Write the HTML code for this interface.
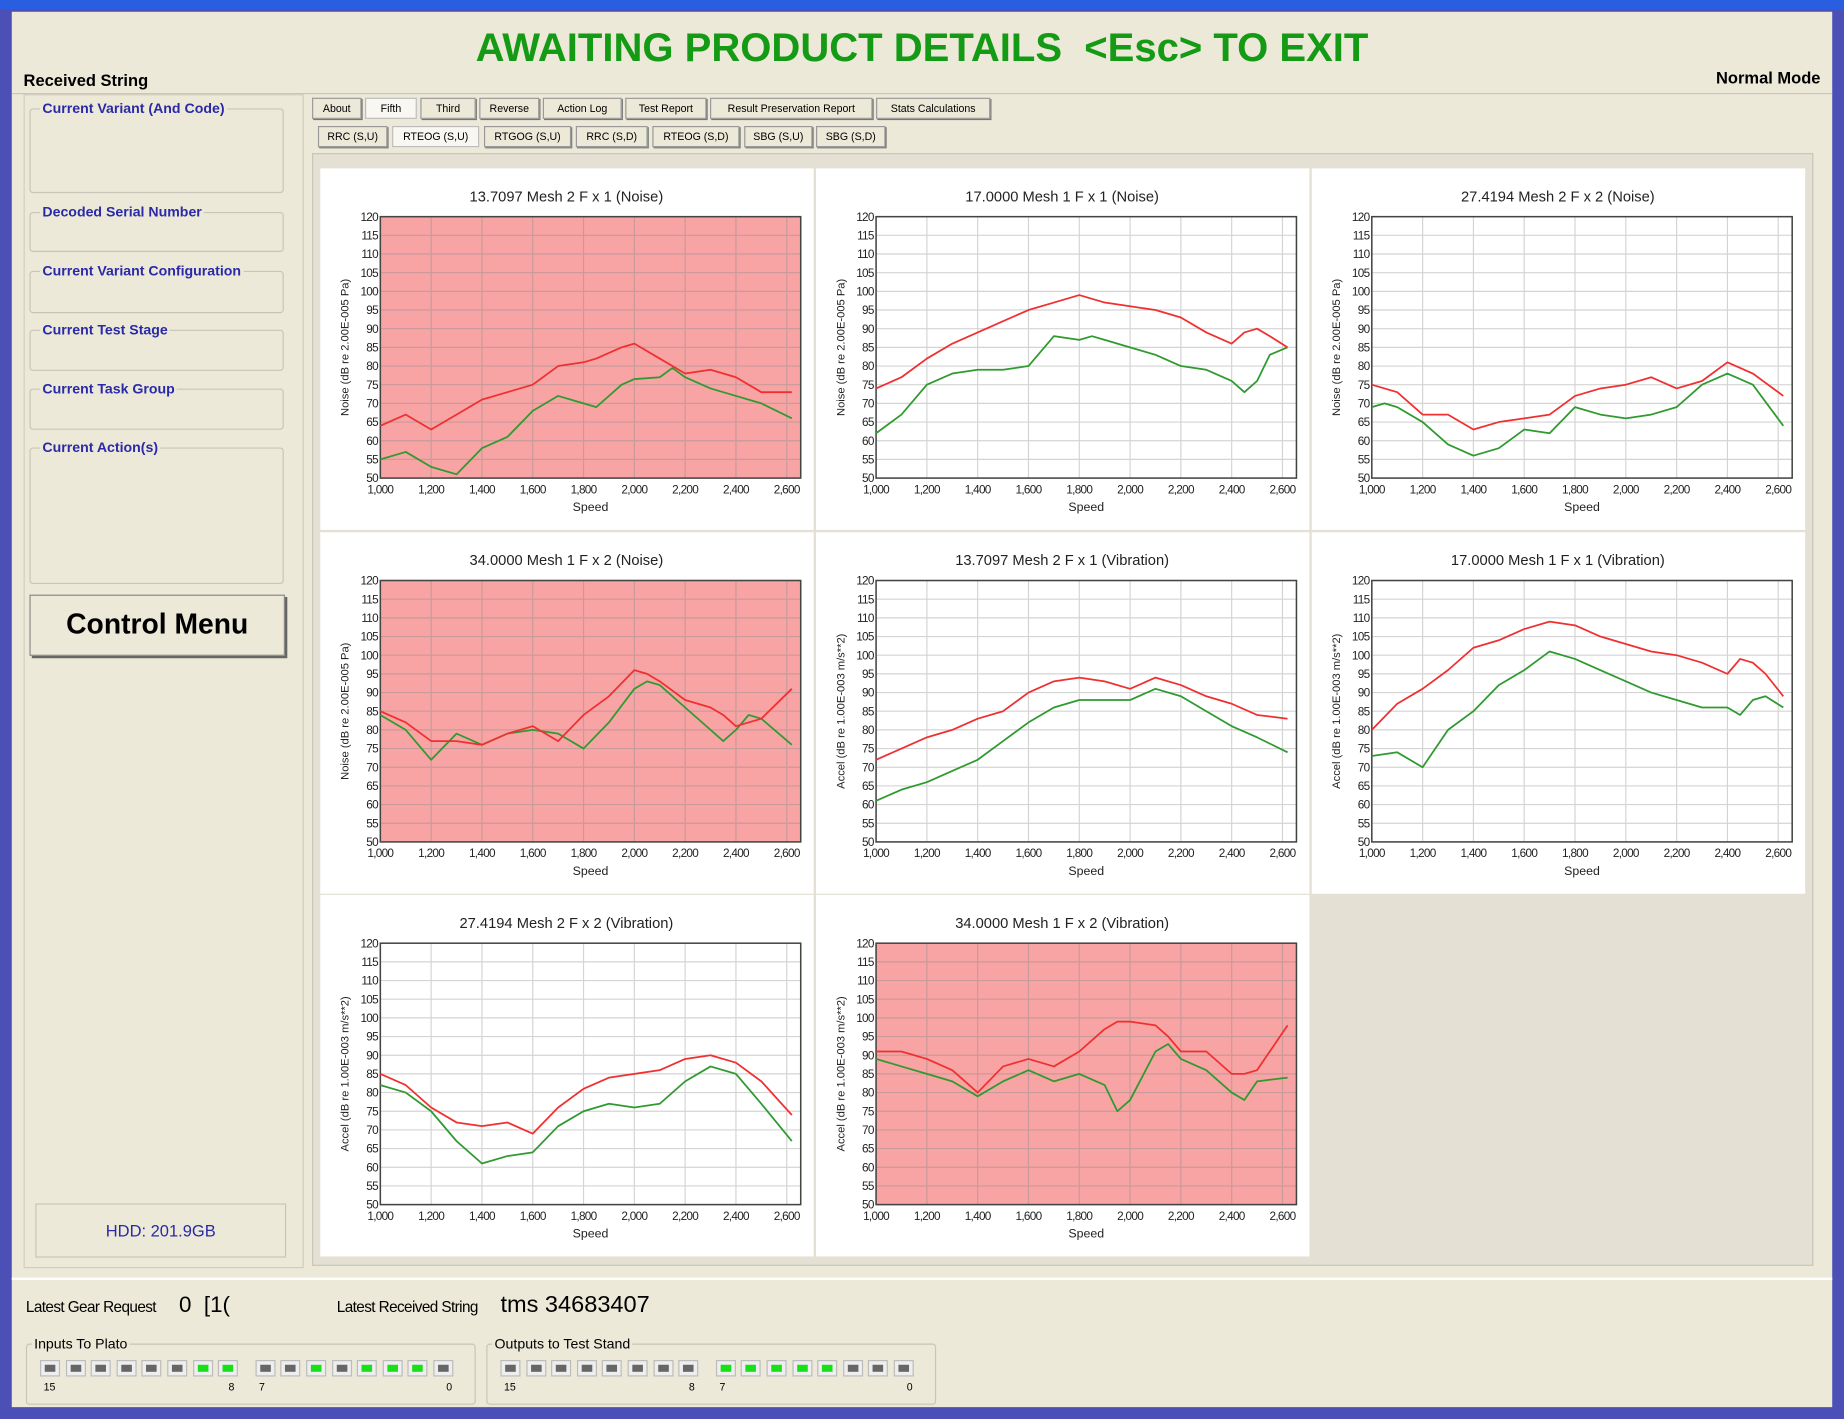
<!DOCTYPE html>
<html><head><meta charset="utf-8"><style>
body{margin:0;width:1844px;height:1417px;overflow:hidden;background:#4a50b8;font-family:"Liberation Sans",sans-serif}
#root{position:absolute;left:0;top:0;width:1566px;height:1205px;transform:scale(1.17752);transform-origin:0 0;background:#4b4fb6}
.abs{position:absolute}
#main{left:10px;top:10px;width:1546px;height:1185px;background:#ece9d8}
.grp{position:absolute;border:1px solid #c8c5b8;border-radius:3px}
.grp span{position:absolute;top:-8px;left:8px;background:#ece9d8;color:#2a2aa8;font-weight:bold;font-size:12px;padding:0 2px}
.tab{position:absolute;height:16px;border:1px solid #999;background:#ece9d8;font-size:9px;line-height:16px;text-align:center;box-shadow:1px 1px 0 #777}
.tab.sel{background:#f8f7f2;box-shadow:none;border-color:#bbb}
.led{position:absolute;width:15px;height:12px;background:#eee;border:1px solid #bbb}
.led i{position:absolute;left:3px;top:3px;width:9px;height:6px;background:#666}
.led.on i{background:#18e018}
.small{font-size:9px;position:absolute}
</style></head><body>
<div id="root">
<div class="abs" style="left:0;top:0;width:1566px;height:8px;background:#2a5ee0"></div>
<div id="main" class="abs">
<div class="abs" style="left:0;top:12px;width:1546px;text-align:center;color:#149a14;font-weight:bold;font-size:34px">AWAITING PRODUCT DETAILS &nbsp;&lt;Esc&gt; TO EXIT</div>
<div class="abs" style="left:10px;top:50px;font-size:14px;font-weight:bold">Received String</div>
<div class="abs" style="right:10px;top:48px;font-size:14px;font-weight:bold">Normal Mode</div>
<div class="abs" style="left:0;top:69px;width:1546px;border-top:1px solid #c8c5b8"></div>
<div class="abs" style="left:10px;top:70px;width:236px;height:995px;border:1px solid #d0cdc0"></div>
<div class="grp" style="left:15px;top:82px;width:214px;height:70px"><span>Current Variant (And Code)</span></div>
<div class="grp" style="left:15px;top:170px;width:214px;height:32px"><span>Decoded Serial Number</span></div>
<div class="grp" style="left:15px;top:220px;width:214px;height:34px"><span>Current Variant Configuration</span></div>
<div class="grp" style="left:15px;top:270px;width:214px;height:33px"><span>Current Test Stage</span></div>
<div class="grp" style="left:15px;top:320px;width:214px;height:33px"><span>Current Task Group</span></div>
<div class="grp" style="left:15px;top:370px;width:214px;height:114px"><span>Current Action(s)</span></div>
<div class="abs" style="left:15px;top:495px;width:215px;height:50px;border:1px solid #888;box-shadow:2px 2px 0 #666;font-size:24px;font-weight:bold;text-align:center;line-height:50px;background:#ece9d8">Control Menu</div>
<div class="abs" style="left:20px;top:1012px;width:211px;height:44px;border:1px solid #c8c5b8;color:#2a2aa8;font-size:14px;text-align:center;line-height:44px">HDD: 201.9GB</div>
<div id="tabs"></div>
<div class="abs" style="left:255px;top:120px;width:1273px;height:943px;border:1px solid #c8c5b8;background:#e4e1d4"></div>
<div id="charts"></div>
<div class="abs" style="left:0;top:1075px;width:1546px;border-top:2px solid #fff"></div>
<div class="abs" style="left:12px;top:1092px;font-size:13px;letter-spacing:-0.5px">Latest Gear Request</div>
<div class="abs" style="left:142px;top:1088px;font-size:19px">0 &nbsp;[1(</div>
<div class="abs" style="left:276px;top:1092px;font-size:13px;letter-spacing:-0.5px">Latest Received String</div>
<div class="abs" style="left:415px;top:1087px;font-size:20px">tms 34683407</div>
<div class="grp" style="left:12px;top:1131px;width:380px;height:50px"><span style="color:#000;font-weight:normal;font-size:12px;left:4px">Inputs To Plato</span></div>
<div class="grp" style="left:403px;top:1131px;width:380px;height:50px"><span style="color:#000;font-weight:normal;font-size:12px;left:4px">Outputs to Test Stand</span></div>
<div id="leds"></div>
</div>
</div>
<script>
const tabNames1=["About","Fifth","Third","Reverse","Action Log","Test Report","Result Preservation Report","Stats Calculations"];
const tabX1=[255,300,347,397,451,521,593,734],tabW1=[40,42,45,49,65,67,136,95];
const tabNames2=["RRC (S,U)","RTEOG (S,U)","RTGOG (S,U)","RRC (S,D)","RTEOG (S,D)","SBG (S,U)","SBG (S,D)"];
const tabX2=[260,323,401,479,544,622,683],tabW2=[57,72,72,59,72,56,57];
let th='';
tabNames1.forEach((n,i)=>{th+=`<div class="tab${i==1?' sel':''}" style="left:${tabX1[i]}px;top:73px;width:${tabW1[i]}px">${n}</div>`});
tabNames2.forEach((n,i)=>{th+=`<div class="tab${i==1?' sel':''}" style="left:${tabX2[i]}px;top:97px;width:${tabW2[i]}px">${n}</div>`});
document.getElementById('tabs').innerHTML=th;

// LEDs
const inLeds=[0,0,0,0,0,0,1,1, 0,0,1,0,1,1,1,0];
const outLeds=[0,0,0,0,0,0,0,0, 1,1,1,1,1,0,0,0];
let lh='';
function ledRow(arr,x0,name){arr.forEach((v,i)=>{const x=x0+i*21.6+(i>=8?10:0);lh+=`<div class="led${v?' on':''}" style="left:${x}px;top:1145px"><i></i></div>`;});
lh+=`<div class="small" style="left:${x0+3}px;top:1163px">15</div><div class="small" style="left:${x0+160}px;top:1163px">8</div><div class="small" style="left:${x0+186}px;top:1163px">7</div><div class="small" style="left:${x0+345}px;top:1163px">0</div>`;}
ledRow(inLeds,24,'input');ledRow(outLeds,415,'output');
document.getElementById('leds').innerHTML=lh;

// chart data
const titles=["13.7097 Mesh 2 F x 1 (Noise)","17.0000 Mesh 1 F x 1 (Noise)","27.4194 Mesh 2 F x 2 (Noise)","34.0000 Mesh 1 F x 2 (Noise)","13.7097 Mesh 2 F x 1 (Vibration)","17.0000 Mesh 1 F x 1 (Vibration)","27.4194 Mesh 2 F x 2 (Vibration)","34.0000 Mesh 1 F x 2 (Vibration)"];
const failed=[true,false,false,true,false,false,false,true];
const yTicks=[50,55,60,65,70,75,80,85,90,95,100,105,110,115,120];
const xTicks=[1000,1200,1400,1600,1800,2000,2200,2400,2600];
const xTickLabels=["1,000","1,200","1,400","1,600","1,800","2,000","2,200","2,400","2,600"];
const speedsStd=[1000,1100,1200,1300,1400,1500,1600,1700,1800,1900,2000,2100,2200,2300,2400,2500,2620];
const speeds1=[1000,1100,1200,1300,1400,1500,1600,1700,1800,1850,1950,2000,2100,2150,2200,2300,2400,2500,2620];
const red1=[64,67,63,67,71,73,75,80,81,82,85,86,82,80,78,79,77,73,73];
const green1=[55,57,53,51,58,61,68,72,70,69,75,76.5,77,79.5,77,74,72,70,66];
const speeds2=[1000,1100,1200,1300,1400,1500,1600,1700,1800,1850,1900,2000,2100,2200,2300,2400,2450,2500,2550,2620];
const red2=[74,77,82,86,89,92,95,97,99,98,97,96,95,93,89,86,89,90,88,85];
const green2=[62,67,75,78,79,79,80,88,87,88,87,85,83,80,79,76,73,76,83,85];
const speeds3=[1000,1050,1100,1200,1300,1400,1500,1600,1700,1800,1900,2000,2100,2200,2300,2400,2500,2620];
const red3=[75,74,73,67,67,63,65,66,67,72,74,75,77,74,76,81,78,72];
const green3=[69,70,69,65,59,56,58,63,62,69,67,66,67,69,75,78,75,64];
const speeds4=[1000,1100,1200,1300,1400,1500,1600,1700,1800,1900,2000,2050,2100,2200,2300,2350,2400,2450,2500,2620];
const red4=[85,82,77,77,76,79,81,77,84,89,96,95,93,88,86,84,81,82,83,91];
const green4=[84,80,72,79,76,79,80,79,75,82,91,93,92,86,80,77,80,84,83,76];
const red5=[72,75,78,80,83,85,90,93,94,93,91,94,92,89,87,84,83];
const green5=[61,64,66,69,72,77,82,86,88,88,88,91,89,85,81,78,74];
const speeds6=[1000,1100,1200,1300,1400,1500,1600,1700,1800,1900,2000,2100,2200,2300,2400,2450,2500,2550,2620];
const red6=[80,87,91,96,102,104,107,109,108,105,103,101,100,98,95,99,98,95,89];
const green6=[73,74,70,80,85,92,96,101,99,96,93,90,88,86,86,84,88,89,86];
const red7=[85,82,76,72,71,72,69,76,81,84,85,86,89,90,88,83,74];
const green7=[82,80,75,67,61,63,64,71,75,77,76,77,83,87,85,77,67];
const speeds8=[1000,1100,1200,1300,1400,1500,1600,1700,1800,1900,1950,2000,2100,2150,2200,2300,2400,2450,2500,2620];
const red8=[91,91,89,86,80,87,89,87,91,97,99,99,98,95,91,91,85,85,86,98];
const green8=[89,87,85,83,79,83,86,83,85,82,75,78,91,93,89,86,80,78,83,84];
const speedSets=[speeds1,speeds2,speeds3,speeds4,speedsStd,speeds6,speedsStd,speeds8];
const redSets=[red1,red2,red3,red4,red5,red6,red7,red8];
const greenSets=[green1,green2,green3,green4,green5,green6,green7,green8];

const NS='http://www.w3.org/2000/svg';
const charts=document.getElementById('charts');
const cellX=[262,683,1104],cellY=[133,442,750];
const X0=1000,X1=2655,Y0=50,Y1=120;
function mk(tag,attrs,parent){const e=document.createElementNS(NS,tag);for(const k in attrs)e.setAttribute(k,attrs[k]);parent.appendChild(e);return e;}
titles.forEach((t,ci)=>{
  const cx=cellX[ci%3],cy=cellY[Math.floor(ci/3)];
  const svg=document.createElementNS(NS,'svg');
  svg.setAttribute('width',419);svg.setAttribute('height',307);
  svg.setAttribute('style',`position:absolute;left:${cx}px;top:${cy}px;background:#fff`);
  
  
  charts.appendChild(svg);
  const L=51,R=408,T=41,B=263;
  const sx=v=>L+(v-X0)/(X1-X0)*(R-L);
  const sy=v=>B-(v-Y0)/(Y1-Y0)*(B-T);
  const bg=mk('rect',{x:L,y:T,width:R-L,height:B-T,fill:failed[ci]?'#f8a4a4':'#fff'},svg);
  
  
  const tt=mk('text',{x:209,y:28,'text-anchor':'middle','font-size':12.5,fill:'#222','font-family':'Liberation Sans'},svg);tt.textContent=t;
  
  
  const gc=failed[ci]?'#c89a9a':'#d4d4d4';
  yTicks.forEach(v=>{mk('line',{x1:L,x2:R,y1:sy(v),y2:sy(v),stroke:gc,'stroke-width':1},svg);
    const tx=mk('text',{x:L-2,y:sy(v)+3.5,'text-anchor':'end','font-size':10,fill:'#222','letter-spacing':'-0.6'},svg);tx.textContent=v;});
  xTicks.forEach((v,i)=>{mk('line',{x1:sx(v),x2:sx(v),y1:T,y2:B,stroke:gc,'stroke-width':1},svg);
    const tx=mk('text',{x:sx(v),y:B+13,'text-anchor':'middle','font-size':10,fill:'#222','letter-spacing':'-0.6'},svg);tx.textContent=xTickLabels[i];});
  mk('rect',{x:L,y:T,width:R-L,height:B-T,fill:'none',stroke:'#444','stroke-width':1.3},svg);
  const xl=mk('text',{x:(L+R)/2,y:B+28,'text-anchor':'middle','font-size':10.5,fill:'#222'},svg);xl.textContent='Speed';
  
  
  const yl=mk('text',{x:0,y:0,'text-anchor':'middle','font-size':9.5,fill:'#222',transform:`translate(24,${(T+B)/2}) rotate(-90)`},svg);
  yl.textContent=ci<4?'Noise (dB re 2.00E-005 Pa)':'Accel (dB re 1.00E-003 m/s**2)';
  
  
  const sp=speedSets[ci];
  const gp=mk('polyline',{points:sp.map((s,i)=>sx(s)+','+sy(greenSets[ci][i])).join(' '),fill:'none',stroke:'#2f9a2f','stroke-width':1.5,'stroke-linejoin':'round'},svg);
  
  
  const rp=mk('polyline',{points:sp.map((s,i)=>sx(s)+','+sy(redSets[ci][i])).join(' '),fill:'none',stroke:'#f03030','stroke-width':1.5,'stroke-linejoin':'round'},svg);
  
  
});
</script>
</body></html>
